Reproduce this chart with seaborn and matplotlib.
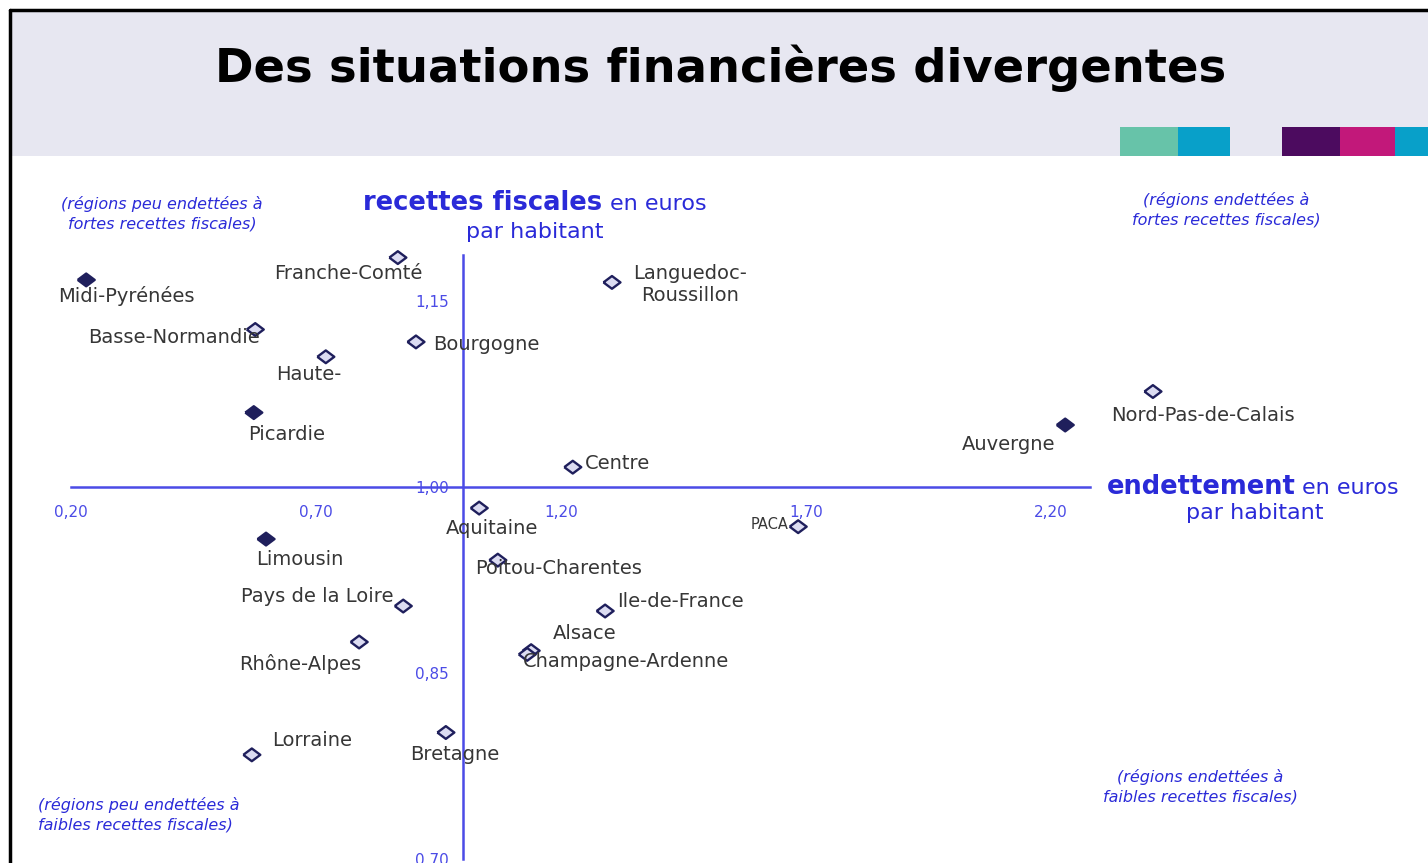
import matplotlib.pyplot as plt
import pandas as pd
import seaborn as sns
from matplotlib.markers import MarkerStyle
from matplotlib.patches import Rectangle

# données (endettement / recettes fiscales, en euros par habitant)
regions = [
    "Midi-Pyrénées", "Franche-Comté", "Languedoc-\nRoussillon", "Basse-Normandie",
    "Bourgogne", "Haute-", "Picardie", "Nord-Pas-de-Calais", "Auvergne", "Centre",
    "Aquitaine", "PACA", "Limousin", "Poitou-Charentes", "Pays de la Loire",
    "Ile-de-France", "Alsace", "Champagne-Ardenne", "Rhône-Alpes", "Lorraine", "Bretagne",
]
endettement = [
    0.231, 0.867, 1.304, 0.576, 0.904, 0.720, 0.573, 2.408, 2.229, 1.224,
    1.033, 1.684, 0.598, 1.071, 0.878, 1.290, 1.139, 1.131, 0.788, 0.569, 0.965,
]
recettes = [
    1.167, 1.185, 1.165, 1.127, 1.117, 1.105, 1.060, 1.077, 1.050, 1.016,
    0.983, 0.968, 0.958, 0.941, 0.904, 0.900, 0.868, 0.865, 0.875, 0.784, 0.802,
]
plein = [
    True, False, False, False, False, False, True, False, True, False,
    False, False, True, False, False, False, False, False, False, False, False,
]
x_ticks = [0.20, 0.70, 1.20, 1.70, 2.20]
y_ticks = [0.70, 0.85, 1.00, 1.15]

df = pd.DataFrame({"region": regions, "endettement": endettement,
                   "recettes": recettes,
                   "type": ["plein" if p else "creux" for p in plein]})

# placement des étiquettes : (alignement, dx, dy) en pixels
label_pos = {
    "Midi-Pyrénées": ("left", -28, -16), "Franche-Comté": ("left", -124, -16),
    "Languedoc-\nRoussillon": ("center", 78, -2), "Basse-Normandie": ("left", -167, -8),
    "Bourgogne": ("left", 17, -3), "Haute-": ("left", -50, -18),
    "Picardie": ("left", -6, -22), "Nord-Pas-de-Calais": ("left", -42, -24),
    "Auvergne": ("right", -10, -19), "Centre": ("left", 12, 4),
    "Aquitaine": ("left", -33, -20), "PACA": ("right", -10, 2),
    "Limousin": ("left", -10, -20), "Poitou-Charentes": ("left", -23, -8),
    "Pays de la Loire": ("right", -10, 10), "Ile-de-France": ("left", 12, 10),
    "Alsace": ("left", 22, 17), "Champagne-Ardenne": ("left", -4, -7),
    "Rhône-Alpes": ("left", -120, -22), "Lorraine": ("left", 20, 14),
    "Bretagne": ("left", -36, -22),
}

W, H = 1428, 863
BLUE = "#2a2ad8"
TICK_BLUE = "#4b4be6"
NAVY = "#1f1f5c"

sns.set_style("white")
plt.rcParams["font.family"] = ["DejaVu Sans"]

fig = plt.figure(figsize=(W / 100, H / 100), dpi=100)
fig.patch.set_facecolor("white")
ax = fig.add_axes([0, 0, 1, 1])
ax.set_facecolor("none")

# x pixel = 463 + (v - 1) * 490 ; y pixel = 487 - (v - 1) * 1240
ax.set_xlim(1 + (0 - 463) / 490, 1 + (W - 463) / 490)
ax.set_ylim(1 - (H - 487) / 1240, 1 + 487 / 1240)

diamond = MarkerStyle([(-1, 0), (0, 0.75), (1, 0), (0, -0.75), (-1, 0)])
sns.scatterplot(data=df, x="endettement", y="recettes", hue="type",
                palette={"plein": NAVY, "creux": "#dcdcf2"}, marker=diamond,
                s=150, edgecolor=NAVY, linewidth=1.7, legend=False, ax=ax, zorder=5)

for name, xv, yv in zip(regions, endettement, recettes):
    ha, dx, dy = label_pos[name]
    ax.annotate(name, (xv, yv), xytext=(dx, dy), textcoords="offset pixels",
                ha=ha, va="center", color="#363636",
                fontsize=10.5 if name == "PACA" else 14, zorder=6)

# axes croisés en (1,00 ; 1,00)
for side in ["top", "right"]:
    ax.spines[side].set_visible(False)
ax.spines["left"].set_position(("data", 1.0))
ax.spines["bottom"].set_position(("data", 1.0))
ax.spines["left"].set_bounds(0.70, 1.187)
ax.spines["bottom"].set_bounds(0.20, 2.28)
for side in ["left", "bottom"]:
    ax.spines[side].set_color(TICK_BLUE)
    ax.spines[side].set_linewidth(1.8)
ax.set_xticks(x_ticks, [f"{v:.2f}".replace(".", ",") for v in x_ticks])
ax.set_yticks(y_ticks, [f"{v:.2f}".replace(".", ",") for v in y_ticks])
ax.tick_params(axis="x", direction="out", length=4, width=1.5, color=TICK_BLUE,
               labelcolor=TICK_BLUE, labelsize=11, pad=9)
ax.tick_params(axis="y", direction="out", length=5, width=1.5, color=TICK_BLUE,
               labelcolor=TICK_BLUE, labelsize=11, pad=5)
ax.set_xlabel("")
ax.set_ylabel("")


def fx(px):
    return px / W


def fy(py):
    return 1 - py / H


# titres des axes
fig.text(fx(602), fy(203), "recettes fiscales", ha="right", va="center",
         color=BLUE, fontsize=18.5, fontweight="bold")
fig.text(fx(610), fy(204), "en euros", ha="left", va="center", color=BLUE, fontsize=16)
fig.text(fx(535), fy(232), "par habitant", ha="center", va="center", color=BLUE,
         fontsize=16)
fig.text(fx(1296), fy(487), "endettement", ha="right", va="center",
         color=BLUE, fontsize=18.5, fontweight="bold")
fig.text(fx(1302), fy(488), "en euros", ha="left", va="center", color=BLUE, fontsize=16)
fig.text(fx(1255), fy(513), "par habitant", ha="center", va="center", color=BLUE,
         fontsize=16)

# quadrants
quad = dict(color=BLUE, fontsize=11.5, style="italic", va="center", linespacing=1.35)
fig.text(fx(162), fy(214), "(régions peu endettées à\nfortes recettes fiscales)",
         ha="center", **quad)
fig.text(fx(1226), fy(210), "(régions endettées à\nfortes recettes fiscales)",
         ha="center", **quad)
fig.text(fx(38), fy(815), "(régions peu endettées à\nfaibles recettes fiscales)",
         ha="left", **quad)
fig.text(fx(1200), fy(787), "(régions endettées à\nfaibles recettes fiscales)",
         ha="center", **quad)

# bandeau de titre
fig.add_artist(Rectangle((fx(11), fy(156)), 1, fy(11) - fy(156),
                         transform=fig.transFigure, facecolor="#e7e7f1",
                         edgecolor="none", zorder=0.5))
for x0, x1, c in [(1120, 1178, "#67c3a9"), (1178, 1230, "#08a0c9"),
                  (1282, 1340, "#4c0b5f"), (1340, 1395, "#c2187a"),
                  (1395, 1428, "#08a0c9")]:
    fig.add_artist(Rectangle((fx(x0), fy(156)), fx(x1) - fx(x0), fy(127) - fy(156),
                             transform=fig.transFigure, facecolor=c,
                             edgecolor="none", zorder=1))
fig.add_artist(plt.Line2D([fx(10), 1], [fy(10), fy(10)], transform=fig.transFigure,
                          color="black", linewidth=2.5, zorder=2))
fig.add_artist(plt.Line2D([fx(10), fx(10)], [fy(10), 0], transform=fig.transFigure,
                          color="black", linewidth=2.5, zorder=2))
fig.text(fx(721), fy(68), "Des situations financières divergentes", ha="center",
         va="center", fontsize=33.5, fontweight="bold", color="black", zorder=3)

fig.savefig("out.png", dpi=100)
